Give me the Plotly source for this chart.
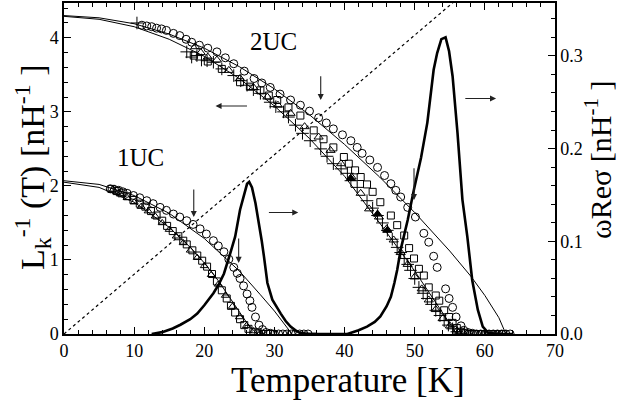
import plotly.graph_objects as go

FONT = "Liberation Serif, Times New Roman, serif"

# ---------------- data ----------------
# 2UC superfluid density data (left axis, nH^-1)
c2_T = [11.1, 11.8, 12.5, 13.2, 13.9, 14.6, 15.6, 16.5, 17.4, 18.2, 19.3, 20.5, 21.8, 23.0, 24.2, 25.7,
        27.1, 28.2, 29.4, 30.8, 32.3, 33.7, 35.0, 36.3, 37.4, 38.4, 39.7, 40.9, 41.8, 42.5, 43.6, 44.7,
        45.7, 46.6, 47.3, 48.0, 49.0, 50.1, 51.3, 52.0, 52.7, 53.2, 54.4, 54.9, 55.4, 55.9, 56.6, 57.0,
        57.6, 58.2, 58.8, 59.4, 60.0, 60.6, 61.2, 61.8, 62.4, 63.0, 63.6]
c2_L = [4.17, 4.16, 4.15, 4.13, 4.12, 4.10, 4.06, 4.03, 3.98, 3.94, 3.90, 3.86, 3.81, 3.73, 3.65, 3.55,
        3.45, 3.39, 3.33, 3.24, 3.16, 3.09, 3.01, 2.92, 2.85, 2.77, 2.69, 2.61, 2.52, 2.44, 2.35, 2.25,
        2.14, 2.03, 1.94, 1.85, 1.71, 1.58, 1.36, 1.24, 1.05, 0.90, 0.61, 0.48, 0.36, 0.23, 0.11, 0.05,
        0.02, 0.01, 0.0, 0.0, 0.0, 0.0, 0.0, 0.0, 0.0, 0.0, 0.0]

s2_T = [18.5, 20.5, 22.5, 25.1, 26.5, 28.0, 29.2, 30.4, 32.0, 33.7, 35.6, 37.0, 38.4, 39.9, 40.6, 41.5,
        42.3, 43.2, 44.0, 45.1, 46.6, 47.5, 48.5, 49.2, 49.9, 50.6, 51.3, 52.0, 53.0, 53.5, 54.2, 54.9,
        55.4, 56.0, 56.6, 57.2, 57.8, 58.4, 59.0, 59.6, 60.2, 60.8, 61.4, 62.0, 62.6]
s2_L = [3.76, 3.68, 3.58, 3.40, 3.34, 3.29, 3.22, 3.16, 3.06, 2.95, 2.75, 2.63, 2.52, 2.39, 2.30, 2.21,
        2.12, 2.02, 1.92, 1.78, 1.60, 1.47, 1.33, 1.16, 1.02, 0.88, 0.79, 0.63, 0.52, 0.45, 0.32, 0.23,
        0.15, 0.08, 0.03, 0.01, 0.0, 0.0, 0.0, 0.0, 0.0, 0.0, 0.0, 0.0, 0.0]

x2_T = [10.4, 17.5, 18.2, 18.95, 19.6, 20.4, 21.3, 22.5, 24.2, 25.2, 26.1, 27.0, 28.0, 29.4, 30.2, 31.3,
        32.0, 33.0, 34.0, 35.1, 36.6, 37.5, 38.4, 39.5, 40.4, 40.9, 41.8, 43.2, 44.0, 44.7, 45.4, 46.1,
        46.8, 47.5, 48.0, 48.5, 49.0, 49.4, 50.0, 50.6, 51.2, 51.8, 52.4, 53.0, 53.6, 54.2, 54.8, 55.4,
        56.0, 56.6]
x2_L = [4.20, 3.81, 3.74, 3.76, 3.70, 3.69, 3.67, 3.58, 3.49, 3.42, 3.36, 3.30, 3.25, 3.13, 3.07, 3.00,
        2.93, 2.82, 2.71, 2.61, 2.50, 2.40, 2.30, 2.23, 2.17, 2.07, 1.98, 1.80, 1.70, 1.60, 1.50, 1.40,
        1.28, 1.17, 1.10, 1.02, 0.94, 0.86, 0.75, 0.63, 0.55, 0.48, 0.40, 0.32, 0.25, 0.18, 0.12, 0.07,
        0.03, 0.01]

t2_T = [18.7, 19.5, 20.5, 21.8, 23.5, 25.1, 27.0, 29.0, 30.5, 32.3, 34.3, 36.3, 38.0, 39.5, 41.0, 42.3,
        43.5, 44.9, 46.0, 47.0, 48.0, 49.0, 50.0, 51.0, 52.0, 53.0, 54.0, 55.0, 56.0, 57.0]
t2_L = [3.88, 3.80, 3.74, 3.70, 3.56, 3.45, 3.33, 3.20, 3.09, 2.98, 2.80, 2.66, 2.48, 2.30, 2.12, 1.90,
        1.69, 1.58, 1.42, 1.27, 1.10, 0.94, 0.77, 0.61, 0.46, 0.33, 0.21, 0.11, 0.04, 0.01]

ft2_T = [40.9, 44.7, 46.1]
ft2_L = [2.10, 1.62, 1.40]

# 1UC data
c1_T = [6.6, 7.2, 7.8, 8.4, 9.0, 9.9, 10.8, 11.8, 12.7, 13.7, 14.6, 15.6, 16.5, 17.5, 18.4, 19.4, 20.3,
        21.3, 22.0, 22.8, 23.5, 24.2, 24.7, 25.1, 25.6, 26.1, 26.5, 26.8, 27.3, 27.8, 28.3, 28.8, 29.4,
        30.0, 30.6, 31.2, 31.8, 32.4, 33.0, 33.6, 34.2, 34.8]
c1_L = [1.96, 1.95, 1.94, 1.92, 1.90, 1.87, 1.84, 1.80, 1.76, 1.71, 1.67, 1.62, 1.58, 1.53, 1.48, 1.42, 1.35,
        1.26, 1.19, 1.11, 1.01, 0.90, 0.82, 0.75, 0.65, 0.54, 0.45, 0.36, 0.23, 0.12, 0.06, 0.02, 0.01,
        0.0, 0.0, 0.0, 0.0, 0.0, 0.0, 0.0, 0.0, 0.0]

s1_T = [6.8, 7.5, 8.2, 9.0, 9.9, 10.8, 11.6, 12.4, 13.2, 14.0, 14.7, 15.5, 16.3, 17.0, 17.5, 18.3, 19.0,
        19.7, 20.4, 21.1, 21.8, 22.5, 23.2, 23.8, 24.4, 25.1, 25.7, 26.3, 27.0, 27.7, 28.4, 29.1, 29.8]
s1_L = [1.96, 1.93, 1.90, 1.86, 1.81, 1.76, 1.72, 1.66, 1.60, 1.53, 1.46, 1.39, 1.32, 1.26, 1.21, 1.13, 1.06,
        0.99, 0.91, 0.81, 0.71, 0.59, 0.48, 0.38, 0.29, 0.20, 0.12, 0.07, 0.03, 0.01, 0.0, 0.0, 0.0]

t1_T = [7.0, 8.0, 9.0, 10.0, 11.0, 12.0, 13.0, 14.0, 15.0, 16.0, 17.0, 18.0, 19.0, 20.0, 21.0, 22.0,
        23.0, 24.0, 25.0, 26.0, 27.0, 28.0]
t1_L = [1.95, 1.89, 1.84, 1.78, 1.72, 1.66, 1.59, 1.50, 1.41, 1.32, 1.23, 1.13, 1.03, 0.92, 0.80, 0.67,
        0.52, 0.37, 0.23, 0.11, 0.04, 0.01]

# fit curves (thin lines)
f2a_T = [0, 5, 10, 15, 20, 25, 30, 35, 40, 45, 50, 55, 58, 60, 62, 63]
f2a_L = [4.30, 4.27, 4.19, 4.05, 3.86, 3.61, 3.31, 2.96, 2.56, 2.12, 1.64, 1.12, 0.78, 0.52, 0.22, 0.0]
f2b_T = [0, 5, 10, 15, 20, 25, 30, 35, 40, 45, 50, 53, 55, 56]
f2b_L = [4.29, 4.25, 4.15, 3.98, 3.75, 3.45, 3.08, 2.64, 2.13, 1.50, 0.85, 0.42, 0.15, 0.0]
f1a_T = [0, 5, 10, 15, 20, 25, 28, 30, 32.5]
f1a_L = [2.07, 2.02, 1.87, 1.63, 1.29, 0.85, 0.53, 0.31, 0.0]
f1b_T = [0, 5, 10, 15, 18, 20, 22, 24, 26, 27.5]
f1b_L = [2.05, 1.98, 1.78, 1.44, 1.17, 0.96, 0.72, 0.44, 0.16, 0.0]

# KT line (dotted)
kt_T = [0, 70]
kt_L = [0, 5.65]

# omega Re sigma (right axis)
w1_T = [12.5, 14, 15.5, 16.6, 18, 19, 20, 21.3, 22.1, 22.8, 23.7, 24.4, 25.1, 25.7, 26.1, 26.4, 26.8,
        27.3, 27.8, 28.2, 28.5, 29.0, 29.7, 30.3, 30.9, 31.6, 32.3, 33.0, 33.7, 35, 36]
w1_R = [0, 0.002, 0.006, 0.010, 0.016, 0.022, 0.031, 0.044, 0.054, 0.065, 0.087, 0.105, 0.134, 0.152,
        0.162, 0.164, 0.158, 0.141, 0.120, 0.100, 0.084, 0.055, 0.037, 0.029, 0.022, 0.014, 0.008, 0.004,
        0.001, 0, 0]
w2_T = [34, 38, 40.4, 42, 43.2, 44.3, 45.1, 46, 46.6, 47.1, 47.5, 48, 48.5, 49, 49.9, 50.9, 51.8, 52.7,
        53.2, 53.8, 54.4, 54.9, 55.4, 56.1, 56.8, 57.5, 58.2, 59, 59.7, 60.5, 62, 64]
w2_R = [0, 0, 0, 0.004, 0.008, 0.013, 0.019, 0.030, 0.040, 0.055, 0.069, 0.091, 0.107, 0.123, 0.156,
        0.190, 0.228, 0.285, 0.303, 0.318, 0.320, 0.305, 0.278, 0.217, 0.145, 0.105, 0.058, 0.026, 0.008,
        0.001, 0, 0]

x_ticks = [0, 10, 20, 30, 40, 50, 60, 70]

# ---------------- figure ----------------
fig = go.Figure()

def line(T, V, width, dash="solid", yaxis="y"):
    fig.add_trace(go.Scatter(x=T, y=V, mode="lines", yaxis=yaxis, showlegend=False,
                             line=dict(color="black", width=width, dash=dash), hoverinfo="skip"))

def pts(T, V, symbol, size):
    fig.add_trace(go.Scatter(x=T, y=V, mode="markers", showlegend=False,
                             marker=dict(symbol=symbol, size=size, color="black",
                                         line=dict(color="black", width=1)), hoverinfo="skip"))

line(kt_T, kt_L, 1.2, dash="dot")
line(f2a_T, f2a_L, 1)
line(f2b_T, f2b_L, 1)
line(f1a_T, f1a_L, 1)
line(f1b_T, f1b_L, 1)

pts(s2_T, s2_L, "square-open", 7)
pts(t2_T, t2_L, "triangle-up-open", 8)
pts(x2_T, x2_L, "cross-thin-open", 9)
pts(ft2_T, ft2_L, "triangle-up", 8)
pts(c2_T, c2_L, "circle-open", 8)

pts(s1_T, s1_L, "square-open", 7)
pts(t1_T, t1_L, "triangle-up-open", 7)
pts(c1_T, c1_L, "circle-open", 8)

line(w1_T, w1_R, 2.6, yaxis="y2")
line(w2_T, w2_R, 2.6, yaxis="y2")

# arrows
arrows = [
    # (head T, head L, tail T, tail L)
    (21.6, 3.08, 26.3, 3.08),
    (61.6, 3.18, 57.0, 3.18),
    (33.4, 1.64, 29.0, 1.64),
    (36.6, 3.16, 36.6, 3.50),
    (49.9, 1.81, 49.9, 2.26),
    (18.5, 1.58, 18.5, 1.97),
    (24.9, 0.96, 24.9, 1.31),
]
for hx, hy, tx, ty in arrows:
    fig.add_annotation(x=hx, y=hy, ax=tx, ay=ty, xref="x", yref="y", axref="x", ayref="y",
                       text="", showarrow=True, arrowhead=2, arrowsize=1.1, arrowwidth=1.1,
                       arrowcolor="#222")

fig.add_annotation(x=29.9, y=3.95, xref="x", yref="y", text="2UC", showarrow=False,
                   font=dict(family=FONT, size=25, color="black"))
fig.add_annotation(x=10.9, y=2.38, xref="x", yref="y", text="1UC", showarrow=False,
                   font=dict(family=FONT, size=25, color="black"))

# axis titles
fig.add_annotation(x=(348 - 64) / 491, y=(334 - 380) / 331, xref="paper", yref="paper",
                   text="Temperature [K]", showarrow=False, xanchor="center", yanchor="middle",
                   font=dict(family=FONT, size=35, color="black"))
fig.add_annotation(x=(32 - 64) / 491, y=(334 - 168) / 331, xref="paper", yref="paper",
                   text="L<sub>k</sub><sup>-1</sup> (T) [nH<sup>-1</sup> ]", textangle=-90,
                   showarrow=False, xanchor="center", yanchor="middle",
                   font=dict(family=FONT, size=34, color="black"))
fig.add_annotation(x=(598 - 64) / 491, y=(334 - 160) / 331, xref="paper", yref="paper",
                   text="ωReσ [nH<sup>-1</sup> ]", textangle=-90,
                   showarrow=False, xanchor="center", yanchor="middle",
                   font=dict(family=FONT, size=30, color="black"))

tickfont = dict(family=FONT, size=18, color="black")
fig.update_layout(
    width=619, height=406,
    margin=dict(l=64, r=64, t=3, b=72, autoexpand=False),
    paper_bgcolor="white", plot_bgcolor="white",
    showlegend=False,
    xaxis=dict(range=[0, 70], tickvals=x_ticks, ticks="inside", ticklen=7, tickwidth=1.2,
               tickcolor="black", showline=True, linecolor="black", linewidth=1.5,
               mirror="ticks", showgrid=False, zeroline=False, tickfont=tickfont, automargin=False,
               minor=dict(dtick=2, ticks="inside", ticklen=4, tickcolor="black", tickwidth=1)),
    yaxis=dict(range=[0, 4.47], dtick=1, ticks="inside", ticklen=7, tickwidth=1.2, tickcolor="black",
               showline=True, linecolor="black", linewidth=1.5, showgrid=False, zeroline=False,
               tickfont=tickfont, automargin=False,
               minor=dict(dtick=0.2, ticks="inside", ticklen=4, tickcolor="black", tickwidth=1)),
    yaxis2=dict(range=[0, 0.357], dtick=0.1, tickformat=".1f", overlaying="y", side="right",
                ticks="inside", ticklen=7, tickwidth=1.2, tickcolor="black", automargin=False,
                showline=True, linecolor="black", linewidth=1.5, showgrid=False, zeroline=False,
                tickfont=tickfont,
                minor=dict(dtick=0.02, ticks="inside", ticklen=4, tickcolor="black", tickwidth=1)),
)

fig.write_html("out.html", config={"displayModeBar": False},
               post_script="document.body.style.margin='0';document.body.style.overflow='hidden';")
